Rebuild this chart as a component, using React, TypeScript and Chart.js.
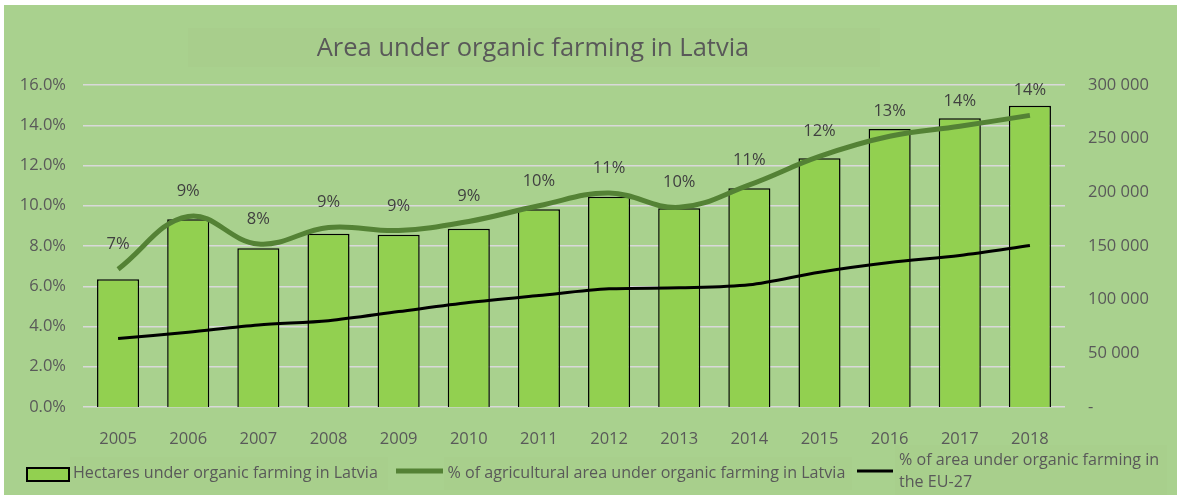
import React, { useEffect, useRef } from "react";
import { Chart, registerables } from "chart.js";

Chart.register(...registerables);

const years = ["2005", "2006", "2007", "2008", "2009", "2010", "2011", "2012", "2013", "2014", "2015", "2016", "2017", "2018"];
const hectaresLatvia = [119000, 174900, 147900, 161500, 160500, 166100, 184200, 195900, 185100, 203700, 231700, 259000, 269000, 280700];
const shareLatvia = [6.85, 9.47, 8.1, 8.92, 8.77, 9.22, 10.0, 10.63, 9.92, 11.04, 12.45, 13.45, 13.95, 14.49];
const shareEU27 = [3.4, 3.72, 4.08, 4.29, 4.74, 5.19, 5.54, 5.87, 5.92, 6.07, 6.7, 7.18, 7.53, 8.02];

const titleText = "Area under organic farming in Latvia";
const legendBars = "Hectares under organic farming in Latvia";
const legendLatvia = "% of agricultural area under organic farming in Latvia";
const legendEU = ["% of area under organic farming in", "the EU-27"];

const FONT = '"Open Sans", sans-serif';
const TEXT = "#595959";
const BG = "#A9D18E";
const BAR = "#92D050";
const GREEN = "#548235";

const decorPlugin = {
  id: "decor",
  beforeDraw(chart: any) {
    const ctx = chart.ctx;
    ctx.save();
    // title box
    ctx.fillStyle = "#A8CE8C";
    ctx.fillRect(184, 23, 692, 39);
    ctx.fillStyle = TEXT;
    ctx.font = `25.5px ${FONT}`;
    ctx.textAlign = "center";
    ctx.textBaseline = "alphabetic";
    ctx.fillText(titleText, 529, 51);

    // legend
    ctx.font = `16.1px ${FONT}`;
    ctx.textAlign = "left";
    ctx.fillStyle = "#A8CF8C";
    ctx.fillRect(66, 452, 318, 33);
    ctx.fillRect(440, 452, 408, 33);
    ctx.fillRect(891, 440, 272, 50);
    // item 1
    ctx.fillStyle = BAR;
    ctx.fillRect(23, 463, 42, 13);
    ctx.strokeStyle = "#000";
    ctx.lineWidth = 2;
    ctx.strokeRect(23, 463, 42, 13);
    ctx.fillStyle = TEXT;
    ctx.fillText(legendBars, 69, 473);
    // item 2
    ctx.strokeStyle = GREEN;
    ctx.lineWidth = 5;
    ctx.beginPath();
    ctx.moveTo(392, 466);
    ctx.lineTo(439, 466);
    ctx.stroke();
    ctx.fillText(legendLatvia, 443.5, 473);
    // item 3
    ctx.strokeStyle = "#000";
    ctx.lineWidth = 3;
    ctx.beginPath();
    ctx.moveTo(853, 466);
    ctx.lineTo(889, 466);
    ctx.stroke();
    ctx.fillText(legendEU[0], 895, 460);
    ctx.fillText(legendEU[1], 895, 482);
    ctx.restore();
  },
  afterDatasetsDraw(chart: any) {
    const ctx = chart.ctx;
    const meta = chart.getDatasetMeta(1);
    ctx.save();
    ctx.font = `16.5px ${FONT}`;
    ctx.fillStyle = "#404040";
    ctx.textAlign = "center";
    ctx.textBaseline = "alphabetic";
    meta.data.forEach((pt: any, i: number) => {
      ctx.fillText(Math.round(shareLatvia[i]) + "%", pt.x, pt.y - 20);
    });
    ctx.restore();
  },
};

function fmtThousands(v: number) {
  if (v === 0) return "-";
  return String(v).replace(/\B(?=(\d{3})+(?!\d))/g, " ");
}

export default function App() {
  const ref = useRef<HTMLCanvasElement | null>(null);
  useEffect(() => {
    if (!ref.current) return;
    const chart = new Chart(ref.current, {
      type: "bar",
      data: {
        labels: years,
        datasets: [
          {
            type: "bar",
            label: legendBars,
            data: hectaresLatvia,
            yAxisID: "y1",
            backgroundColor: BAR,
            borderColor: "#000",
            borderWidth: 1.5,
            barPercentage: 0.6,
            categoryPercentage: 1,
            order: 3,
          },
          {
            type: "line",
            label: legendLatvia,
            data: shareLatvia,
            yAxisID: "y",
            borderColor: GREEN,
            borderWidth: 5,
            pointRadius: 0,
            tension: 0.4,
            order: 1,
          },
          {
            type: "line",
            label: legendEU.join(" "),
            data: shareEU27,
            yAxisID: "y",
            borderColor: "#000",
            borderWidth: 3,
            pointRadius: 0,
            tension: 0.3,
            order: 2,
          },
        ] as any,
      },
      options: {
        responsive: false,
        maintainAspectRatio: false,
        animation: false,
        layout: { padding: { top: 80, left: 0, right: 0, bottom: 0 } },
        plugins: { legend: { display: false }, title: { display: false }, tooltip: { enabled: false } },
        scales: {
          x: {
            grid: { display: false },
            border: { display: false },
            ticks: { color: TEXT, font: { family: FONT, size: 16.5 }, padding: 14 },
            afterFit: (s: any) => {
              s.height = 88;
            },
          },
          y: {
            position: "left",
            min: 0,
            max: 16,
            ticks: {
              stepSize: 2,
              color: TEXT,
              font: { family: FONT, size: 16.5 },
              padding: 17,
              callback: (v: any) => Number(v).toFixed(1) + "%",
            },
            grid: { color: "#D9D9D9", lineWidth: 1.5, drawTicks: false },
            border: { display: false },
            afterFit: (s: any) => {
              s.width = 79;
            },
          },
          y1: {
            position: "right",
            min: 0,
            max: 300000,
            ticks: {
              stepSize: 50000,
              color: TEXT,
              font: { family: FONT, size: 16.5 },
              padding: 23,
              callback: (v: any) => fmtThousands(Number(v)),
            },
            grid: { display: false, drawTicks: false },
            border: { display: false },
            afterFit: (s: any) => {
              s.width = 112;
            },
          },
        },
      } as any,
      plugins: [decorPlugin],
    });
    return () => chart.destroy();
  }, []);

  return (
    <div style={{ position: "fixed", left: 0, top: 0, width: 1177, height: 495, background: "#fff" }}>
      <div style={{ position: "absolute", left: 4, top: 5, width: 1173, height: 490, background: BG }}>
        <canvas ref={ref} width={1173} height={490} style={{ width: 1173, height: 490, display: "block" }} />
      </div>
    </div>
  );
}
